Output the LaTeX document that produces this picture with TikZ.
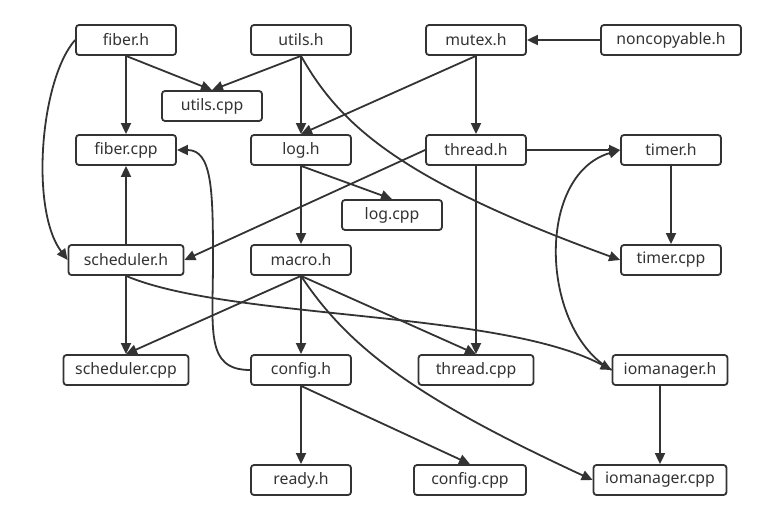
\documentclass[tikz,border=0pt]{standalone}
\usepackage{fontspec}
\setmainfont{Noto Sans}
\usetikzlibrary{arrows.meta}
\definecolor{ink}{HTML}{333333}
\begin{document}
\begin{tikzpicture}[x=1pt,y=-1pt,
  file/.style={draw=ink, line width=1.8pt, rounded corners=3pt, fill=white,
    minimum height=30pt, inner sep=0pt, text=ink,
    font=\fontsize{15.8}{17}\selectfont},
  dep/.style={draw=ink, line width=1.8pt, -{Triangle[length=11pt,width=10pt]}}]
\useasboundingbox (0,0) rectangle (766,519);
% headers and sources, laid out on a grid of rows
\node[file, minimum width=100pt] (fiberh)   at (126,40)  {fiber.h};
\node[file, minimum width=100pt] (utilsh)   at (301,40)  {utils.h};
\node[file, minimum width=100pt] (mutexh)   at (476,40)  {mutex.h};
\node[file, minimum width=140pt] (noncopy)  at (671,40)  {noncopyable.h};
\node[file, minimum width=100pt] (utilscpp) at (212,106) {utils.cpp};
\node[file, minimum width=100pt] (fibercpp) at (126,150) {fiber.cpp};
\node[file, minimum width=100pt] (logh)     at (301,150) {log.h};
\node[file, minimum width=100pt] (threadh)  at (476,150) {thread.h};
\node[file, minimum width=100pt] (timerh)   at (671,150) {timer.h};
\node[file, minimum width=100pt] (logcpp)   at (392,215) {log.cpp};
\node[file, minimum width=115pt] (schedh)   at (126,260) {scheduler.h};
\node[file, minimum width=100pt] (macroh)   at (301,260) {macro.h};
\node[file, minimum width=100pt] (timercpp) at (671,260) {timer.cpp};
\node[file, minimum width=125pt] (schedcpp) at (126,370) {scheduler.cpp};
\node[file, minimum width=100pt] (configh)  at (301,370) {config.h};
\node[file, minimum width=115pt] (threadcpp) at (476,370) {thread.cpp};
\node[file, minimum width=115pt] (iomh)     at (670,370) {iomanager.h};
\node[file, minimum width=100pt] (readyh)   at (301,480) {ready.h};
\node[file, minimum width=112pt] (configcpp) at (470,480) {config.cpp};
\node[file, minimum width=133pt] (iomcpp)   at (660,480) {iomanager.cpp};
% include dependencies
\draw[dep] (fiberh.south) -- (utilscpp.north);
\draw[dep] (utilsh.south) -- (utilscpp.north);
\draw[dep] (fiberh.south) -- (fibercpp.north);
\draw[dep] (fiberh.west) .. controls (40,80) and (30,210) .. (schedh.west);
\draw[dep] (utilsh.south) -- (logh.north);
\draw[dep] (utilsh.south) .. controls (340,125) and (400,180) .. (timercpp.west);
\draw[dep] (mutexh.south) -- (logh.north);
\draw[dep] (noncopy.west) -- (mutexh.east);
\draw[dep] (mutexh.south) -- (threadh.north);
\draw[dep] (threadh.east) -- (timerh.west);
\draw[dep] (threadh.west) -- (schedh.east);
\draw[dep] (threadh.south) -- (threadcpp.north);
\draw[dep] (timerh.south) -- (timercpp.north);
\draw[dep] (logh.south) -- (logcpp.north);
\draw[dep] (logh.south) -- (macroh.north);
\draw[dep] (schedh.north) -- (fibercpp.south);
\draw[dep] (configh.west) .. controls (205,370) and (213,330) .. (213,260)
  .. controls (213,190) and (212,150) .. (fibercpp.east);
\draw[dep] (schedh.south) -- (schedcpp.north);
\draw[dep] (schedh.south) .. controls (230,320) and (500,310) .. (iomh.west);
\draw[dep] (macroh.south) -- (schedcpp.north);
\draw[dep] (macroh.south) -- (configh.north);
\draw[dep] (macroh.south) -- (threadcpp.north);
\draw[dep] (macroh.south) .. controls (350,350) and (420,400) .. (iomcpp.west);
\draw[dep] (iomh.west) .. controls (540,330) and (535,175) .. (timerh.west);
\draw[dep] (configh.south) -- (readyh.north);
\draw[dep] (configh.south) -- (configcpp.north);
\draw[dep] (iomcpp.north |- iomh.south) -- (iomcpp.north);
\end{tikzpicture}
\end{document}
